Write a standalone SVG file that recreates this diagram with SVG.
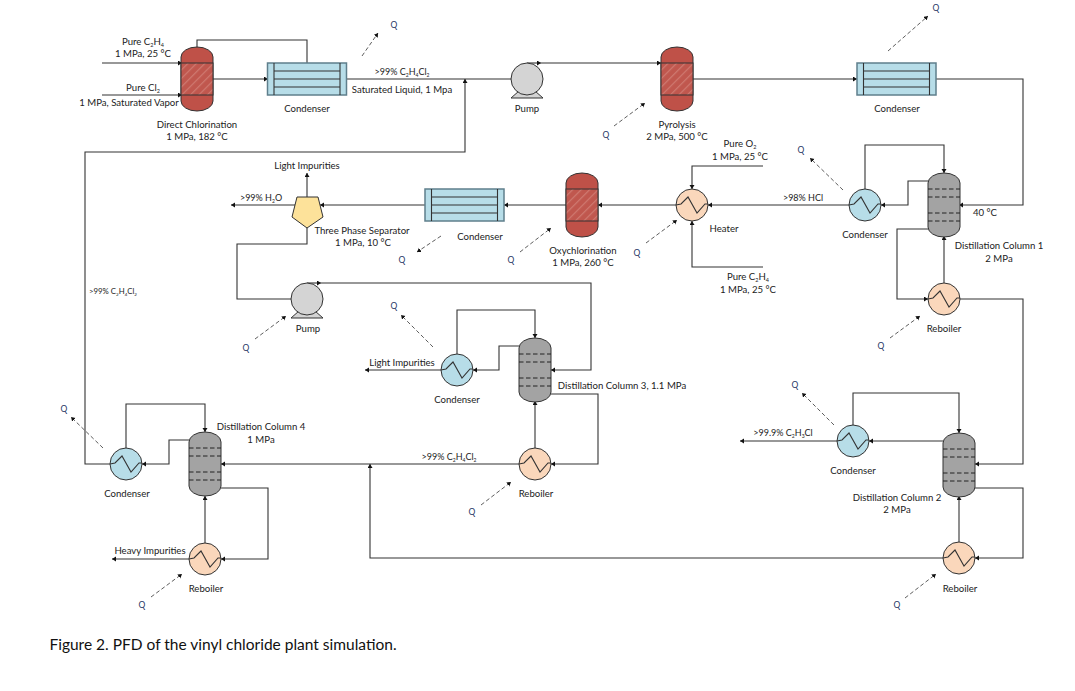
<svg xmlns="http://www.w3.org/2000/svg" width="1075" height="691" viewBox="0 0 1075 691">
<style>
text{font-family:Lato,Carlito,"Liberation Sans",sans-serif;font-size:9.600px;fill:#222;text-anchor:middle}
.sm{font-size:9px}
.xs{font-size:7.800px}
.l{fill:none;stroke:#333;stroke-width:1.100;marker-end:url(#a)}
.n{fill:none;stroke:#333;stroke-width:1.100}
.q{fill:none;stroke:#333;stroke-width:.8;stroke-dasharray:4 2.500;marker-end:url(#a)}
.s{stroke:#333;stroke-width:1}
.t{stroke:#222;stroke-width:1;stroke-dasharray:4.500 2.500}
.qt{font-size:8.500px;fill:#1f3864}
</style>
<defs>
<marker id="a" markerWidth="6" markerHeight="6" refX="4" refY="2.500" orient="auto" markerUnits="userSpaceOnUse"><path d="M0 0L4 2.500L0 5z" fill="#111"/></marker>
<pattern id="h" width="6" height="6" patternUnits="userSpaceOnUse" patternTransform="rotate(45)"><rect width="6" height="6" fill="#c0574e"/><rect width="1.200" height="6" fill="#cf7a71"/></pattern>
<g id="reactor"><rect x="-16" y="-32" width="32" height="64" rx="16" ry="10" fill="#bf5148" class="s"/><rect x="-16" y="-16" width="32" height="32" fill="url(#h)" class="s"/></g>
<g id="hx"><rect x="-39.500" y="-16" width="79" height="32" fill="#b7dde8" stroke="#5f7f8c" stroke-width="1.500"/><path d="M-33-16V16M33-16V16M-33-8H33M-33 0H33M-33 8H33" class="n"/></g>
<g id="cond"><circle r="16" fill="#b7dde8" class="s"/><path d="M-16 0L-11-1L-4-8L5 8L13-1H16" class="n"/></g>
<g id="reb"><circle r="16" fill="#fad7bb" class="s"/><path d="M-16 0L-11-1L-4-8L5 8L13-1H16" class="n"/></g>
<g id="pump"><path d="M-16 19L-8 12H8L16 19z" fill="#d4d4d4" class="s"/><circle r="16" fill="#d4d4d4" class="s"/></g>
<g id="col"><rect x="-16" y="-32" width="32" height="64" rx="16" ry="10" fill="#a3a3a3" class="s"/><path d="M-16-16H16M-16-8H16M-16 8H16M-16 16H16" class="t"/></g>
</defs>
<rect width="1075" height="691" fill="#fff"/>
<g id="connectors">
<path class="l" d="M102 63H182"/><path class="l" d="M102 95H182"/>
<path class="n" d="M197 48V40H307V63"/>
<path class="l" d="M213 79H268"/>
<path class="l" d="M346 79H527"/>
<path class="l" d="M527 63H541"/><path class="l" d="M541 63H661"/>
<path class="l" d="M692 79H857"/>
<path class="l" d="M936 79H1023V205H959"/>
<path class="l" d="M928 181H908V205H881"/>
<path class="l" d="M849 205H708"/>
<path class="l" d="M865 189V145H944V173"/>
<path class="l" d="M928 229H897V299H928"/>
<path class="l" d="M944 283V236"/>
<path class="l" d="M960 299H1023V464H975"/>
<path class="l" d="M943 441H869"/>
<path class="l" d="M837 441H740"/>
<path class="l" d="M853 425V393H959V433"/>
<path class="l" d="M975 488H1023V558H975"/>
<path class="l" d="M959 542V496"/>
<path class="l" d="M943 558H370V464"/>
<path class="l" d="M519 464H221"/>
<path class="l" d="M551 394H598V464H551"/>
<path class="l" d="M535 448V401"/>
<path class="l" d="M519 346H499V370H473"/>
<path class="l" d="M441 370H365"/>
<path class="l" d="M457 354V310H535V338"/>
<path class="l" d="M307 283H321"/><path class="l" d="M321 283H591V370H551"/>
<path class="l" d="M189 440H169V464H142"/>
<path class="l" d="M110 464H85V152H465V79"/>
<path class="l" d="M126 448V404H205V432"/>
<path class="l" d="M221 488H268V559H221"/>
<path class="l" d="M205 543V496"/>
<path class="l" d="M189 559H112"/>
<path class="l" d="M763 166H692V189"/>
<path class="l" d="M763 267H692V221"/>
<path class="l" d="M676 205H598"/>
<path class="l" d="M566 205H504"/>
<path class="l" d="M425 205H320"/>
<path class="l" d="M295 205H231"/>
<path class="l" d="M307 197V173"/>
<path class="l" d="M307 228V244H237V299H307"/>
<path class="q" d="M362 56L378 33"/>
<path class="q" d="M888 51L928 16"/>
<path class="q" d="M614 126L645 103"/>
<path class="q" d="M520 252L551 228"/>
<path class="q" d="M441 236L417 252"/>
<path class="q" d="M646 243L677 220"/>
<path class="q" d="M255 339L286 316"/>
<path class="q" d="M433 347L401 315"/>
<path class="q" d="M843 190L810 158"/>
<path class="q" d="M890 338L920 316"/>
<path class="q" d="M481 505L511 482"/>
<path class="q" d="M834 425L802 393"/>
<path class="q" d="M905 598L936 574"/>
<path class="q" d="M103 448L71 417"/>
<path class="q" d="M151 597L182 574"/>
</g>
<g id="direct-chlorination"><use href="#reactor" x="197" y="79"/><text x="197" y="128">Direct Chlorination</text><text x="197" y="140">1 MPa, 182 °C</text></g>
<g id="condenser-1"><use href="#hx" x="307" y="79"/><text x="307" y="112">Condenser</text></g>
<g id="pump-1"><use href="#pump" x="527" y="79"/><text x="527" y="112">Pump</text></g>
<g id="pyrolysis"><use href="#reactor" x="677" y="79"/><text x="677" y="128">Pyrolysis</text><text x="677" y="140">2 MPa, 500 °C</text></g>
<g id="condenser-2"><use href="#hx" x="896.500" y="79"/><text x="897" y="112">Condenser</text></g>
<g id="heater"><use href="#reb" x="692" y="205"/><text x="724" y="232">Heater</text></g>
<g id="oxychlorination"><use href="#reactor" x="582" y="205"/><text x="583" y="254">Oxychlorination</text><text x="583" y="266">1 MPa, 260 °C</text></g>
<g id="condenser-3"><use href="#hx" x="464.500" y="205"/><text x="480" y="240">Condenser</text></g>
<g id="separator"><path d="M297 197H318L323 217L307 228L292 217z" fill="#fde29a" class="s"/><text x="362" y="234">Three Phase Separator</text><text x="363" y="246">1 MPa, 10 °C</text></g>
<g id="pump-2"><use href="#pump" x="307" y="299"/><text x="308" y="332">Pump</text></g>
<g id="condenser-4"><use href="#cond" x="865" y="205"/><text x="865" y="238">Condenser</text></g>
<g id="column-1"><use href="#col" x="944" y="205"/><text x="999" y="249">Distillation Column 1</text><text x="999" y="262">2 MPa</text><text x="985" y="216">40 °C</text></g>
<g id="reboiler-1"><use href="#reb" x="944" y="299"/><text x="944" y="332">Reboiler</text></g>
<g id="condenser-5"><use href="#cond" x="853" y="441"/><text x="853" y="474">Condenser</text></g>
<g id="column-2"><use href="#col" x="959" y="465"/><text x="897" y="501">Distillation Column 2</text><text x="897" y="513">2 MPa</text></g>
<g id="reboiler-2"><use href="#reb" x="959" y="558"/><text x="960" y="592">Reboiler</text></g>
<g id="condenser-6"><use href="#cond" x="457" y="370"/><text x="457" y="403">Condenser</text></g>
<g id="column-3"><use href="#col" x="535" y="370"/><text x="622" y="389">Distillation Column 3, 1.1 MPa</text></g>
<g id="reboiler-3"><use href="#reb" x="535" y="464"/><text x="536" y="497">Reboiler</text></g>
<g id="condenser-7"><use href="#cond" x="126" y="464"/><text x="127" y="497">Condenser</text></g>
<g id="column-4"><use href="#col" x="205" y="464"/><text x="261" y="430">Distillation Column 4</text><text x="261" y="443">1 MPa</text></g>
<g id="reboiler-4"><use href="#reb" x="205" y="559"/><text x="206" y="592">Reboiler</text></g>
<g id="labels">
<text x="143" y="45">Pure C<tspan font-size="5.500" dy="1.500">2</tspan><tspan dy="-1.500">H</tspan><tspan font-size="5.500" dy="1.500">4</tspan></text><text x="143" y="57">1 MPa, 25 °C</text>
<text x="143" y="91">Pure Cl<tspan font-size="5.500" dy="1.500">2</tspan></text><text x="129" y="106">1 MPa, Saturated Vapor</text>
<text class="sm" x="402" y="75">&gt;99% C<tspan font-size="5" dy="1.500">2</tspan><tspan dy="-1.500">H</tspan><tspan font-size="5" dy="1.500">4</tspan><tspan dy="-1.500">Cl</tspan><tspan font-size="5" dy="1.500">2</tspan></text>
<text x="402" y="93">Saturated Liquid, 1 Mpa</text>
<text x="740" y="147">Pure O<tspan font-size="5.500" dy="1.500">2</tspan></text><text x="740" y="160">1 MPa, 25 °C</text>
<text x="748" y="280">Pure C<tspan font-size="5.500" dy="1.500">2</tspan><tspan dy="-1.500">H</tspan><tspan font-size="5.500" dy="1.500">4</tspan></text><text x="748" y="293">1 MPa, 25 °C</text>
<text class="sm" x="803" y="201">&gt;98% HCl</text>
<text x="307" y="169">Light Impurities</text>
<text class="sm" x="261" y="201">&gt;99% H<tspan font-size="5" dy="1.500">2</tspan><tspan dy="-1.500">O</tspan></text>
<text class="xs" x="113" y="294">&gt;99% C<tspan font-size="4.500" dy="1.500">2</tspan><tspan dy="-1.500">H</tspan><tspan font-size="4.500" dy="1.500">4</tspan><tspan dy="-1.500">Cl</tspan><tspan font-size="4.500" dy="1.500">2</tspan></text>
<text x="402" y="366">Light Impurities</text>
<text class="sm" x="449" y="460">&gt;99% C<tspan font-size="5" dy="1.500">2</tspan><tspan dy="-1.500">H</tspan><tspan font-size="5" dy="1.500">4</tspan><tspan dy="-1.500">Cl</tspan><tspan font-size="5" dy="1.500">2</tspan></text>
<text class="sm" x="783" y="436">&gt;99.9% C<tspan font-size="5" dy="1.500">2</tspan><tspan dy="-1.500">H</tspan><tspan font-size="5" dy="1.500">3</tspan><tspan dy="-1.500">Cl</tspan></text>
<text x="150" y="554">Heavy Impurities</text>
<text class="qt" x="394" y="28">Q</text><text class="qt" x="936" y="11">Q</text><text class="qt" x="606" y="138">Q</text><text class="qt" x="511" y="263">Q</text><text class="qt" x="402" y="263">Q</text><text class="qt" x="637" y="256">Q</text><text class="qt" x="246" y="351">Q</text><text class="qt" x="394" y="309">Q</text><text class="qt" x="801" y="153">Q</text><text class="qt" x="881" y="349">Q</text><text class="qt" x="472" y="515">Q</text><text class="qt" x="795" y="388">Q</text><text class="qt" x="897" y="608">Q</text><text class="qt" x="64" y="412">Q</text><text class="qt" x="142" y="608">Q</text>
<text x="223" y="650" style="font-size:15.500px;fill:#111">Figure 2. PFD of the vinyl chloride plant simulation.</text>
</g>
</svg>
